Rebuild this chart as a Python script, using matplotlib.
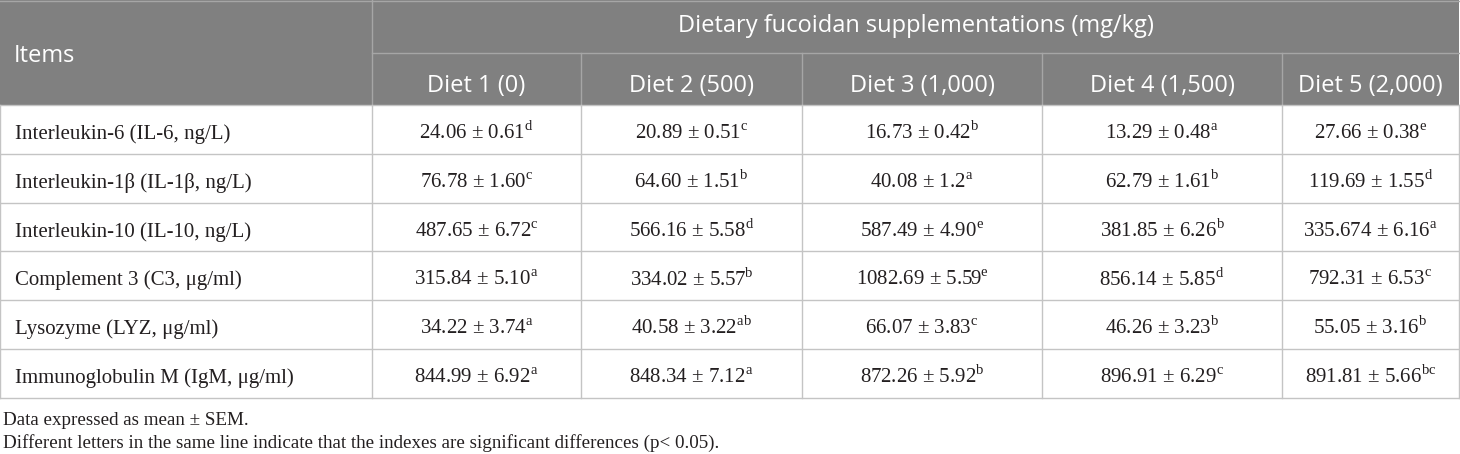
import matplotlib.pyplot as plt
from matplotlib.patches import Rectangle

plt.rcParams['mathtext.fontset'] = 'custom'
plt.rcParams['mathtext.rm'] = 'Liberation Serif'

# table content
group_title = "Dietary fucoidan supplementations (mg/kg)"
diets = ["Diet 1 (0)", "Diet 2 (500)", "Diet 3 (1,000)", "Diet 4 (1,500)", "Diet 5 (2,000)"]
items = [
    "Interleukin-6 (IL-6, ng/L)",
    "Interleukin-1β (IL-1β, ng/L)",
    "Interleukin-10 (IL-10, ng/L)",
    "Complement 3 (C3, μg/ml)",
    "Lysozyme (LYZ, μg/ml)",
    "Immunoglobulin M (IgM, μg/ml)",
]
means = [
    ["24.06", "20.89", "16.73", "13.29", "27.66"],
    ["76.78", "64.60", "40.08", "62.79", "119.69"],
    ["487.65", "566.16", "587.49", "381.85", "335.674"],
    ["315.84", "334.02", "1082.69", "856.14", "792.31"],
    ["34.22", "40.58", "66.07", "46.26", "55.05"],
    ["844.99", "848.34", "872.26", "896.91", "891.81"],
]
sems = [
    ["0.61", "0.51", "0.42", "0.48", "0.38"],
    ["1.60", "1.51", "1.2", "1.61", "1.55"],
    ["6.72", "5.58", "4.90", "6.26", "6.16"],
    ["5.10", "5.57", "5.59", "5.85", "6.53"],
    ["3.74", "3.22", "3.83", "3.23", "3.16"],
    ["6.92", "7.12", "5.92", "6.29", "5.66"],
]
letters = [
    ["d", "c", "b", "a", "e"],
    ["c", "b", "a", "b", "d"],
    ["c", "d", "e", "b", "a"],
    ["a", "b", "e", "d", "c"],
    ["a", "ab", "c", "b", "b"],
    ["a", "a", "b", "c", "bc"],
]
notes = [
    "Data expressed as mean ± SEM.",
    "Different letters in the same line indicate that the indexes are significant differences (p< 0.05).",
]

# layout in pixels
W, H = 1460, 454
col_edges = [0, 372, 581, 802, 1042, 1282, 1459]
head_mid = 53
head_bot = 105
row_h = 48.8
header_bg = "#808080"
head_line = "#a6a6a6"
grid_c = "#c4c4c4"
text_c = "#231f20"

fig = plt.figure(figsize=(W / 100, H / 100), dpi=100)
ax = fig.add_axes([0, 0, 1, 1])
ax.set_xlim(0, W)
ax.set_ylim(H, 0)
ax.axis("off")

# header block
ax.add_patch(Rectangle((0, 0), col_edges[-1], head_bot, facecolor=header_bg, edgecolor="none"))
ax.plot([0, col_edges[-1]], [0.5, 0.5], color=head_line, lw=1)
ax.plot([col_edges[1], col_edges[-1]], [head_mid, head_mid], color=head_line, lw=1)
for x in col_edges[1:-1]:
    y0 = 0 if x == col_edges[1] else head_mid
    ax.plot([x, x], [y0, head_bot], color=head_line, lw=1)

hfont = dict(family="Open Sans", fontsize=17, color="white")
ax.text(14, 62, "Items", ha="left", va="baseline", **hfont)
ax.text((col_edges[1] + col_edges[-1]) / 2, 32, group_title, ha="center", va="baseline", **hfont)
for j, d in enumerate(diets):
    ax.text((col_edges[j + 1] + col_edges[j + 2]) / 2, 92, d,
            ha="center", va="baseline", **hfont)

# body
n = len(items)
bot = head_bot + row_h * n
for i in range(n + 1):
    y = head_bot + row_h * i
    ax.plot([0, col_edges[-1]], [y, y], color=grid_c, lw=1)
for x in col_edges:
    ax.plot([x, x], [head_bot, bot], color=grid_c, lw=1)

bfont = dict(family="Liberation Serif", fontsize=15, color=text_c)
for i, name in enumerate(items):
    yb = head_bot + row_h * i + 34
    ax.text(15, yb, name, ha="left", va="baseline", **bfont)
    for j in range(len(diets)):
        xc = (col_edges[j + 1] + col_edges[j + 2]) / 2
        s = f"{means[i][j]} ± {sems[i][j]}" + r"$^{\mathrm{" + letters[i][j] + "}}$"
        ax.text(xc, yb, s, ha="center", va="baseline", **bfont)

# footnotes
nfont = dict(family="Liberation Serif", fontsize=13.7, color=text_c)
for k, t in enumerate(notes):
    ax.text(3, 425 + 23 * k, t, ha="left", va="baseline", **nfont)

fig.savefig("out.png", dpi=100)
